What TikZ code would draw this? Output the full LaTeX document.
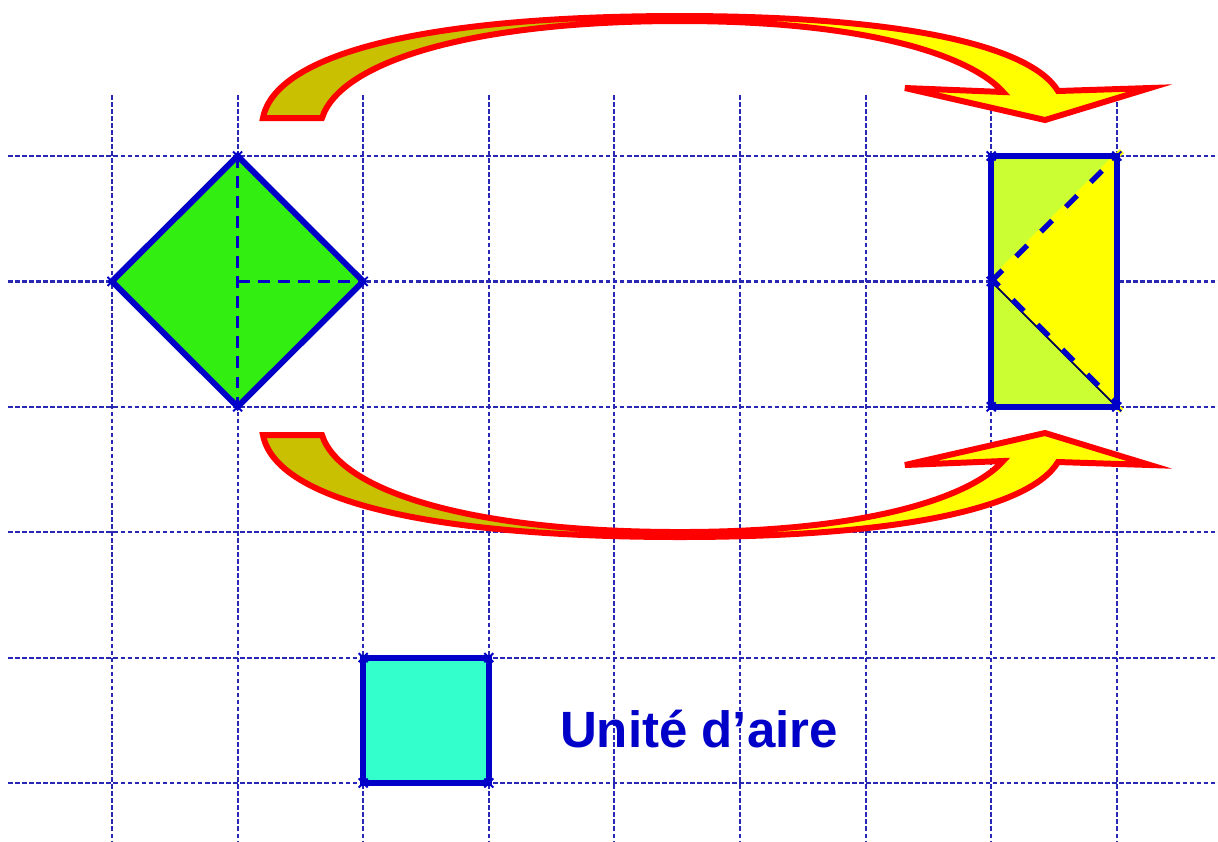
\documentclass[tikz,border=0pt]{standalone}
\usepackage{fontspec}
\setmainfont{Liberation Sans}
\usetikzlibrary{calc}
\definecolor{gridblue}{RGB}{40,40,180}
\definecolor{shapeblue}{RGB}{0,0,200}
\definecolor{diamondgreen}{RGB}{51,238,17}
\definecolor{rectgreen}{RGB}{204,255,51}
\definecolor{unitaqua}{RGB}{51,255,204}
\definecolor{arrowolive}{RGB}{200,192,0}
\definecolor{arrowyellow}{RGB}{255,255,0}
\definecolor{arrowred}{RGB}{255,0,0}
\tikzset{
  gridline/.style={gridblue, line width=0.62pt, dash pattern=on 1.3pt off 0.7pt},
  outline/.style={draw=shapeblue, line width=1.7pt, line join=miter},
  innerdash/.style={shapeblue, line width=0.9pt, dash pattern=on 3.4pt off 2.3pt},
  rectdash/.style={shapeblue, line width=1.5pt, dash pattern=on 4.5pt off 5.5pt},
  vmark/.style={shapeblue, line width=0.55pt},
  blockarrow/.style={draw=arrowred, line width=1.7pt, line join=miter},
  labeltext/.style={font=\bfseries\fontsize{14.5}{17}\selectfont, text=shapeblue, anchor=base, inner sep=0pt}
}
\begin{document}
\begin{tikzpicture}[x=0.01cm, y=-0.01cm]
\useasboundingbox (0,0) rectangle (1218,841);
\fill[white] (0,0) rectangle (1218,841);
% grid
\foreach \i in {0,...,8} {
  \draw[gridline] ({112+125.6*\i},95) -- ({112+125.6*\i},841);
}
\foreach \j in {0,...,5} {
  \draw[gridline] (8,{156+125.4*\j}) -- (1218,{156+125.4*\j});
}
% named points
\coordinate (DT) at (237.6,156);
\coordinate (DR) at (363.2,281.4);
\coordinate (DB) at (237.6,406.8);
\coordinate (DL) at (112,281.4);
\coordinate (DC) at (237.6,281.4);
\coordinate (R1) at (991.2,156);
\coordinate (R2) at (1116.8,156);
\coordinate (R3) at (1116.8,406.8);
\coordinate (R4) at (991.2,406.8);
\coordinate (RM) at (991.2,281.4);
\coordinate (U1) at (363.2,657.6);
\coordinate (U2) at (488.8,657.6);
\coordinate (U3) at (488.8,783);
\coordinate (U4) at (363.2,783);
% diamond
\fill[diamondgreen] (DT) -- (DR) -- (DB) -- (DL) -- cycle;
\draw[innerdash] (DT) -- (DB);
\draw[innerdash] (DC) -- (DR);
\draw[outline] (DT) -- (DR) -- (DB) -- (DL) -- cycle;
% rectangle
\fill[rectgreen] (R1) rectangle (R3);
\fill[arrowyellow] (RM) -- (R2) -- (R3) -- cycle;
\draw[arrowyellow, line width=1.6pt] (RM) -- ($(R2)+(5,-5)$);
\draw[arrowyellow, line width=1.5pt] (R3) -- ++(5,4);
\draw[black!70!blue, line width=0.5pt] (RM) -- (R3);
\draw[rectdash] (RM) -- (R2);
\draw[rectdash, dash phase=2pt] ($(RM)+(1.5,-1.5)$) -- ($(R3)+(1.5,-1.5)$);
\draw[outline] (R1) rectangle (R3);
% unit square
\fill[unitaqua] (U1) rectangle (U3);
\draw[outline] (U1) rectangle (U3);
% vertex marks
\foreach \p in {DT,DR,DB,DL,R1,R2,R3,R4,RM,U1,U2,U3,U4} {
  \draw[vmark] (\p) ++(-4.5,-4.5) -- ++(9,9) ++(-9,0) -- ++(9,-9);
}
% label
\node[labeltext] (unit) at (699,747) {Unité d’aire};
% block arrows
\def\toparrow{(263,118) .. controls (275,55) and (420,16) .. (680,16)
  .. controls (900,16) and (1030,45) .. (1058,91)
  -- (1150,88) -- (1045,120) -- (905,88) -- (1003,92)
  .. controls (975,60) and (880,21) .. (680,21)
  .. controls (470,21) and (340,62) .. (322,118) -- cycle}
\def\botarrow{(263,435) .. controls (275,498) and (420,537) .. (680,537)
  .. controls (900,537) and (1030,508) .. (1058,462)
  -- (1150,465) -- (1045,433) -- (905,465) -- (1003,461)
  .. controls (975,493) and (880,532) .. (680,532)
  .. controls (470,532) and (340,491) .. (322,435) -- cycle}
\fill[arrowyellow] \toparrow;
\begin{scope}
  \clip (0,0) rectangle (680,300);
  \fill[arrowolive] \toparrow;
\end{scope}
\draw[blockarrow] \toparrow;
\fill[arrowyellow] \botarrow;
\begin{scope}
  \clip (0,300) rectangle (680,841);
  \fill[arrowolive] \botarrow;
\end{scope}
\draw[blockarrow] \botarrow;
\end{tikzpicture}
\end{document}
